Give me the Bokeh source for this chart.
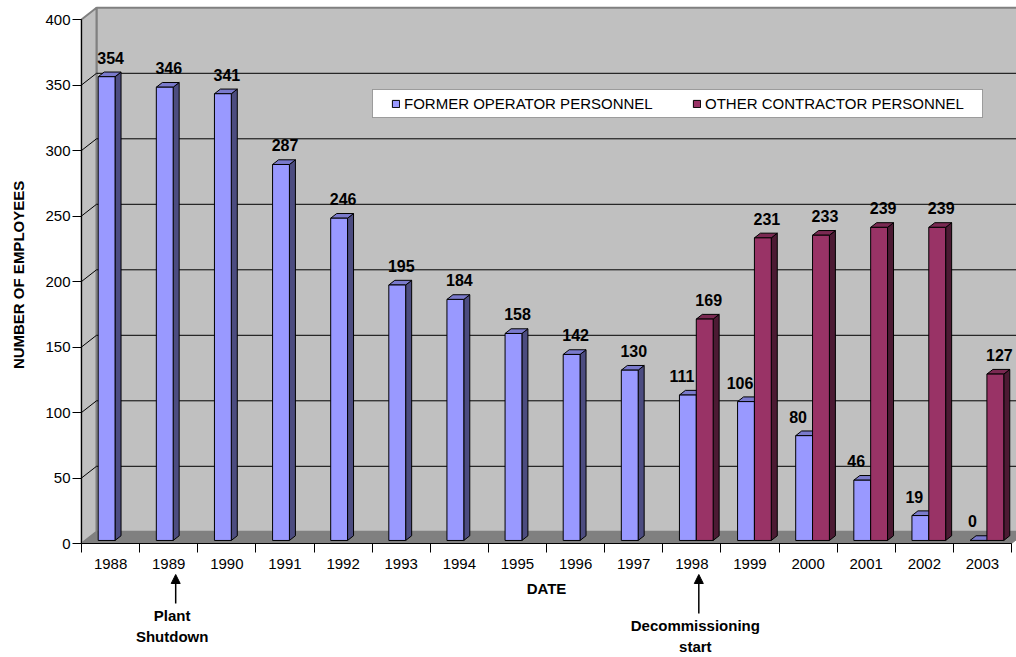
import math
from bokeh.plotting import figure
from bokeh.models import (Range1d, FixedTicker, Legend, LegendItem, Arrow,
                          NormalHead, BoxAnnotation)
from bokeh.core.properties import value
from bokeh.embed import file_html
from bokeh.resources import INLINE

# ---- data -------------------------------------------------------------
years = ["1988", "1989", "1990", "1991", "1992", "1993", "1994", "1995",
         "1996", "1997", "1998", "1999", "2000", "2001", "2002", "2003"]
former_operator = [354, 346, 341, 287, 246, 195, 184, 158, 142, 130,
                   111, 106, 80, 46, 19, 0]
other_contractor = [None, None, None, None, None, None, None, None, None, None,
                    169, 231, 233, 239, 239, 127]
y_ticks = [0, 50, 100, 150, 200, 250, 300, 350, 400]
# event notes: year, text lines, pixel drop of first line below the axis
notes = [("1989", ["Plant", "Shutdown"], 72),
         ("1998", ["Decommissioning", "start"], 82)]

# ---- layout constants -------------------------------------------------
FONT = "Liberation Sans"
W, H = 1016, 657
AXIS_X = 81               # pixel column of the value axis
AXIS_Y = 543              # pixel row of the value 0
SLOT_PX = 58.125          # pixels per category slot
UNIT_PX = 1.31            # pixels per employee
x_start = -AXIS_X / SLOT_PX
x_end = (W - AXIS_X) / SLOT_PX
y_end = AXIS_Y / UNIT_PX
y_start = -(H - AXIS_Y) / UNIT_PX

# oblique depth of the chart box, in data units
DEPTH_X = 15 / SLOT_PX
DEPTH_Y = 11.7 / UNIT_PX
BAR_D0, BAR_D1 = 0.26, 0.66
n = len(years)
top_tick = y_ticks[-1]

p = figure(width=W, height=H, x_range=Range1d(x_start, x_end),
           y_range=Range1d(y_start, y_end),
           output_backend="svg", toolbar_location=None,
           min_border=0, outline_line_color=None,
           background_fill_color="white", border_fill_color="white")
p.grid.visible = False

# ---- walls and floor --------------------------------------------------
p.patch([DEPTH_X, x_end + 1, x_end + 1, DEPTH_X],
        [DEPTH_Y, DEPTH_Y, top_tick + DEPTH_Y, top_tick + DEPTH_Y],
        fill_color="#C0C0C0", line_color="#808080", line_width=2)
p.patch([0, DEPTH_X, DEPTH_X, 0],
        [0, DEPTH_Y, top_tick + DEPTH_Y, top_tick],
        fill_color="#C0C0C0", line_color="#808080", line_width=2)
p.patch([0, n, n + DEPTH_X, DEPTH_X], [0, 0, DEPTH_Y, DEPTH_Y],
        fill_color="#808080", line_color="#808080", line_width=1)

grid_vals = [v for v in y_ticks if 0 < v < top_tick]
p.multi_line(xs=[[0, DEPTH_X, x_end + 1] for _ in grid_vals],
             ys=[[v, v + DEPTH_Y, v + DEPTH_Y] for v in grid_vals],
             line_color="black", line_width=1)


# ---- 3-D columns --------------------------------------------------------
def draw_bars(values, left_frac, right_frac, front, side, top_col):
    idx = [i for i, v in enumerate(values) if v is not None]
    fx, fy = BAR_D0 * DEPTH_X, BAR_D0 * DEPTH_Y
    bx, by = (BAR_D1 - BAR_D0) * DEPTH_X, (BAR_D1 - BAR_D0) * DEPTH_Y
    left = [i + left_frac + fx for i in idx]
    right = [i + right_frac + fx for i in idx]
    tops = [values[i] + fy for i in idx]
    p.patches(xs=[[r, r + bx, r + bx, r] for r in right],
              ys=[[fy, fy + by, t + by, t] for t in tops],
              fill_color=side, line_color="black", line_width=1)
    p.patches(xs=[[l, l + bx, r + bx, r] for l, r in zip(left, right)],
              ys=[[t, t + by, t + by, t] for t in tops],
              fill_color=top_col, line_color="black", line_width=1)
    r_front = p.quad(left=left, right=right, bottom=[fy] * len(idx), top=tops,
                     fill_color=front, line_color="black", line_width=1)
    labels = dict(idx=idx, x=[(l + r) / 2 for l, r in zip(left, right)], y=tops,
                  text=[str(values[i]) for i in idx])
    return r_front, labels


r_former, lab_former = draw_bars(former_operator, 0.22, 0.51,
                                 "#9999FF", "#4C4C80", "#7A7ACC")
r_other, lab_other = draw_bars(other_contractor, 0.51, 0.80,
                               "#993366", "#4C1A33", "#7A2952")

# value labels on top of everything; a left-hand label shifts aside when
# its year also has a contractor column
lab_former["dx"] = [-6 if other_contractor[i] is not None else 4 for i in lab_former["idx"]]
lab_other["dx"] = [4 for _ in lab_other["idx"]]
for lab in (lab_former, lab_other):
    p.text(x=lab["x"], y=lab["y"], text=lab["text"], x_offset=lab["dx"],
           y_offset=-19, text_align="center", text_baseline="alphabetic",
           text_font=value(FONT), text_font_style="bold", text_font_size="16px",
           text_color="black")

# ---- axes ---------------------------------------------------------------
yax = p.yaxis[0]
yax.fixed_location = 0
yax.ticker = FixedTicker(ticks=y_ticks)
yax.bounds = (0, top_tick)
yax.major_tick_out = 9
yax.major_tick_in = 0
yax.minor_tick_line_color = None
yax.axis_line_color = "black"
yax.major_tick_line_color = "black"
yax.major_label_standoff = 2
yax.major_label_text_font = FONT
yax.major_label_text_font_size = "15px"
yax.major_label_text_color = "black"

xax = p.xaxis[0]
xax.fixed_location = 0
xax.ticker = FixedTicker(ticks=[i + 0.5 for i in range(n)],
                         minor_ticks=list(range(n + 1)))
xax.major_label_overrides = {i + 0.5: y for i, y in enumerate(years)}
xax.bounds = (0, n)
xax.major_tick_line_color = None
xax.major_tick_out = 9
xax.major_tick_in = 0
xax.minor_tick_line_color = "black"
xax.minor_tick_out = 9
xax.minor_tick_in = 0
xax.axis_line_color = "black"
xax.major_label_standoff = 6
xax.major_label_text_font = FONT
xax.major_label_text_font_size = "15px"
xax.major_label_text_color = "black"
xax.axis_label = "DATE"
xax.axis_label_text_font = FONT
xax.axis_label_text_font_style = "bold"
xax.axis_label_text_font_size = "15px"
xax.axis_label_text_color = "black"
xax.axis_label_standoff = 8

# value-axis title, centred on the value range
p.text(x=[-(AXIS_X - 17.5) / SLOT_PX], y=[top_tick / 2 + 5], text=["NUMBER OF EMPLOYEES"],
       angle=math.pi / 2, text_align="center", text_baseline="middle",
       text_font=value(FONT), text_font_style="bold", text_font_size="15px",
       text_color="black")

# ---- legend -------------------------------------------------------------
p.add_layout(BoxAnnotation(left=291 + AXIS_X, right=901 + AXIS_X,
                           bottom=540, top=568,
                           left_units="screen", right_units="screen",
                           bottom_units="screen", top_units="screen",
                           fill_color="white", fill_alpha=1.0,
                           line_color="black", line_width=1))
legend = Legend(items=[LegendItem(label="FORMER OPERATOR PERSONNEL", renderers=[r_former]),
                       LegendItem(label="OTHER CONTRACTOR PERSONNEL", renderers=[r_other])],
                orientation="horizontal", location=(310 + AXIS_X, 545), padding=0, margin=0,
                spacing=0, glyph_width=9, glyph_height=9, label_standoff=4,
                label_width=288, label_height=9,
                label_text_font=FONT, label_text_font_size="15px",
                label_text_color="black", border_line_color=None,
                background_fill_alpha=0)
p.add_layout(legend, "center")

# ---- event notes under the axis ------------------------------------------
note_x, note_y, note_text = [], [], []
for year, lines, drop in notes:
    cx = years.index(year) + 0.5
    tx = cx + 3.5 / SLOT_PX
    ax = cx + 7 / SLOT_PX
    first_y = -drop / UNIT_PX
    p.add_layout(Arrow(end=NormalHead(size=9, fill_color="black", line_color="black"),
                       x_start=ax, y_start=first_y + 12 / UNIT_PX,
                       x_end=ax, y_end=-31 / UNIT_PX,
                       line_color="black", line_width=1.5))
    for k, line in enumerate(lines):
        note_x.append(tx)
        note_y.append(first_y - k * 20.7 / UNIT_PX)
        note_text.append(line)
p.text(x=note_x, y=note_y, text=note_text, text_align="center", text_baseline="middle",
       text_font=value(FONT), text_font_style="bold", text_font_size="15px",
       text_color="black")

open("out.html", "w").write(file_html(p, INLINE))
